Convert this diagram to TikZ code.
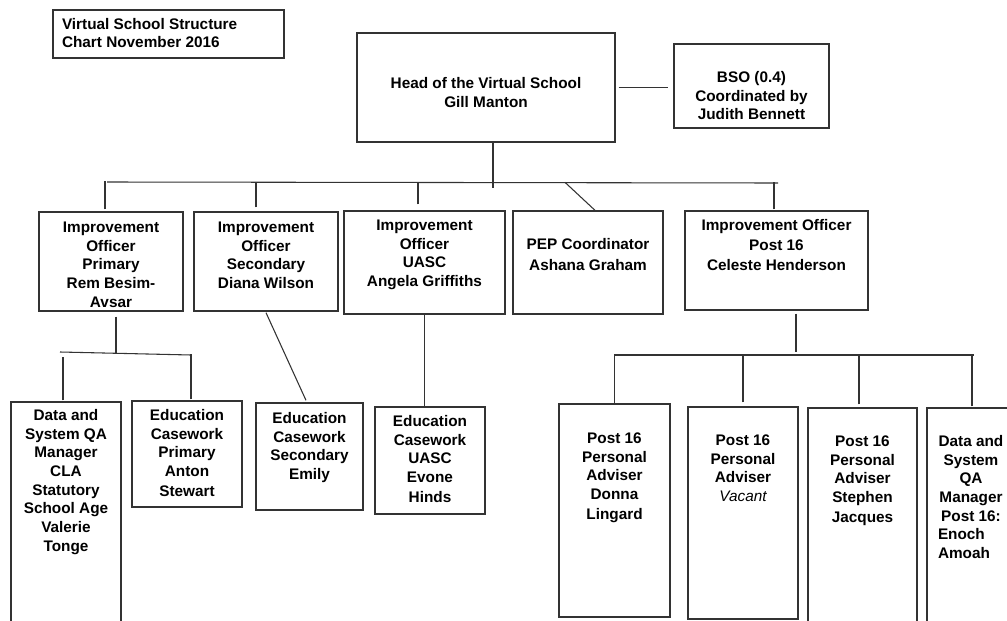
\documentclass[tikz,border=0pt]{standalone}
\usepackage{fontspec}
\setmainfont{Liberation Sans}
\newdimen\pxu \pxu=0.75pt
\newcommand\bx[4]{\parbox[c][#2\pxu][t]{#1\pxu}{\centering\vspace*{#3\pxu}\strut #4}}
\tikzset{
  orgbox/.style={draw=black!80, line width=1pt, inner sep=0pt, font=\fontsize{11.5pt}{14pt}\selectfont\bfseries},
  conn/.style={draw=black!80, line width=0.8pt},
}
\begin{document}
\begin{tikzpicture}[x=0.75pt,y=-0.75pt]
\clip (0,0) rectangle (1007,621);
\fill[white] (0,0) rectangle (1007,621);
% title
\node[orgbox] (title) at (168.5,34) {\parbox[c][48\pxu][t]{231\pxu}{\raggedright\vspace*{6\pxu}\hspace*{9\pxu}\strut Virtual School Structure\\\hspace*{9\pxu}Chart November 2016}};
% top level
\node[orgbox] (hd) at (486,87.5) {\bx{258}{109}{42.4}{Head of the Virtual School\\Gill Manton}};
\node[orgbox] (bso) at (751.5,86) {\bx{155}{84}{25.4}{BSO (0.4)\\Coordinated by\\Judith Bennett}};
% second level
\node[orgbox] (iop) at (111,261.5) {\bx{144}{99}{7.4}{Improvement\\Officer\\Primary\\Rem Besim-\\Avsar}};
\node[orgbox] (ios) at (266,261.5) {\bx{144}{99}{7.4}{Improvement\\Officer\\Secondary\\Diana Wilson}};
\node[orgbox] (iou) at (424.5,262.5) {\bx{161}{103}{6.4}{Improvement\\Officer\\UASC\\Angela Griffiths}};
\node[orgbox] (pep) at (588,262.5) {\bx{150}{103}{25.4}{PEP Coordinator\\[2\pxu]Ashana Graham}};
\node[orgbox] (io16) at (776.5,260.5) {\bx{183}{99}{6.4}{Improvement Officer\\[1\pxu]Post 16\\[2\pxu]Celeste Henderson}};
% third level
\node[orgbox] (dqa) at (66,521) {\bx{110}{238}{5.4}{Data and\\System QA\\Manager\\CLA\\Statutory\\School Age\\Valerie\\Tonge}};
\node[orgbox] (edp) at (187,454) {\bx{110}{106}{6.4}{Education\\Casework\\Primary\\Anton\\[1\pxu]Stewart}};
\node[orgbox] (eds) at (309.5,456.5) {\bx{107}{107}{7.4}{Education\\Casework\\Secondary\\Emily}};
\node[orgbox] (edu) at (430,460.5) {\bx{110}{107}{6.4}{Education\\Casework\\UASC\\Evone\\[1\pxu]Hinds}};
\node[orgbox] (pa1) at (614.5,510.5) {\bx{111}{213}{26.4}{Post 16\\Personal\\Adviser\\Donna\\[1\pxu]Lingard}};
\node[orgbox] (pa2) at (743,513) {\bx{110}{212}{25.4}{Post 16\\Personal\\Adviser\\\mdseries\itshape Vacant}};
\node[orgbox] (pa3) at (862.5,524) {\bx{109}{232}{25.4}{Post 16\\Personal\\Adviser\\Stephen\\[1\pxu]Jacques}};
\node[orgbox] (dq16) at (971,524) {\bx{88}{232}{25.4}{Data and\\System\\QA\\Manager\\Post 16:\\\makebox[\linewidth][l]{\hspace*{11\pxu}Enoch}\\\makebox[\linewidth][l]{\hspace*{11\pxu}Amoah}}};
% connectors, top
\draw[conn] ([xshift=3\pxu]hd.east) -- ([xshift=-5\pxu]hd.east -| bso.west);
\draw[conn] ([xshift=7\pxu]hd.south) -- ++(0,45);
\coordinate (busL) at (107,182);
\coordinate (busR) at (778,183);
\draw[conn] (busL) -- (busR);
\draw[conn] ([shift={(-6,-2)}]iop.north) -- ++(0,-28);
\draw[conn] ([shift={(-10,-4)}]ios.north) -- ++(0,-25);
\draw[conn] ([shift={(-6.5,-6)}]iou.north) -- ++(0,-22);
\draw[conn] ([xshift=7\pxu]pep.north) -- ++(-30,-28);
\draw[conn] ([shift={(-2.5,-1)}]io16.north) -- ++(0,-27);
% primary subtree
\draw[conn] ([shift={(5,5)}]iop.south) -- ++(0,37);
\coordinate (b2L) at (60,352);
\coordinate (b2R) at (191,355);
\draw[conn] (b2L) -- (b2R);
\draw[conn] ([shift={(-3,-1)}]dqa.north) -- ++(0,-43);
\draw[conn] ([shift={(4,-1)}]edp.north) -- ++(0,-45);
% secondary and uasc
\draw[conn] ([shift={(0,1)}]ios.south) -- ([shift={(-3.5,-2)}]eds.north);
\draw[conn] (iou.south) -- (iou.south |- edu.north);
% post 16 subtree
\draw[conn] ([shift={(19.5,3)}]io16.south) -- ++(0,38);
\coordinate (b3L) at (614,355);
\coordinate (b3R) at (974,355);
\draw[conn] (b3L) -- (b3R);
\draw[conn] (pa1.north) -- ++(0,-49);
\draw[conn] ([shift={(0,-4)}]pa2.north) -- ++(0,-48);
\draw[conn] ([shift={(-3.5,-3)}]pa3.north) -- ++(0,-50);
\draw[conn] ([shift={(1,-1)}]dq16.north) -- ++(0,-52);
\end{tikzpicture}
\end{document}
